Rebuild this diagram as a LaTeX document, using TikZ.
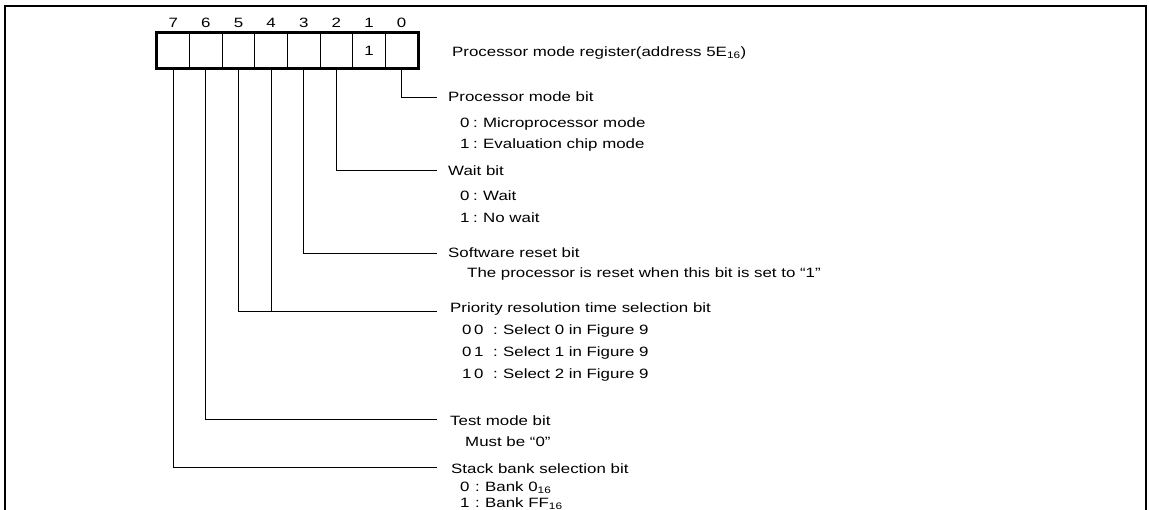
\documentclass[tikz,border=0pt]{standalone}
\usepackage{fontspec}
\usetikzlibrary{calc}
\newfontfamily\labfont[FakeStretch=1.25]{Liberation Sans}
\newcommand\codeA[1]{\makebox[13pt][l]{#1}\makebox[10pt][l]{:}}
\newcommand\codeB[2]{\makebox[12pt][l]{#1}\makebox[19pt][l]{#2}\makebox[10pt][l]{:}}
\newcommand\codeC[1]{\makebox[15pt][l]{#1}\makebox[10pt][l]{:}}
\begin{document}
\begin{tikzpicture}[x=1pt,y=-1pt,
  every node/.style={font=\labfont\fontsize{13.5}{16}\selectfont, inner sep=0pt},
  txt/.style={anchor=base west},
  cell/.style={draw, line width=0.9pt, minimum width=32.625pt, minimum height=35pt, anchor=center},
  lead/.style={line width=0.9pt},
  frame/.style={line width=2.2pt},
  regbox/.style={line width=2.6pt}]
\useasboundingbox (0,0) rectangle (1149,509);
\clip (0,0) rectangle (1149,509);
% outer frame
\draw[frame] (5,530) -- (5,6) -- (1146,6) -- (1146,530);
% register cells
\foreach \b in {7,...,0}{
  \node[cell] (b\b) at ({157+(7-\b+0.5)*32.625},50.5) {};
  \node[anchor=base] (n\b) at ({157+(7-\b+0.5)*32.625},27) {\b};
}
\draw[regbox] (b7.north west) rectangle (b0.south east);
\node[anchor=base] (v1) at ($(b1.center)+(0,5)$) {1};
\node[txt] (title) at (452,56) {Processor mode register(address 5E\textsubscript{16})};
% labels
\node[txt] (h0) at (448,101) {Processor mode bit};
\node[txt] (h0a) at (460,127) {\codeA{0}Microprocessor mode};
\node[txt] (h0b) at (460,148) {\codeA{1}Evaluation chip mode};
\node[txt] (h2) at (448,175) {Wait bit};
\node[txt] (h2a) at (460,200) {\codeA{0}Wait};
\node[txt] (h2b) at (460,222) {\codeA{1}No wait};
\node[txt] (h3) at (448,257) {Software reset bit};
\node[txt] (h3a) at (467,277) {The processor is reset when this bit is set to “1”};
\node[txt] (h45) at (450,312) {Priority resolution time selection bit};
\node[txt] (h45a) at (462,334) {\codeB{0}{0}Select 0 in Figure 9};
\node[txt] (h45b) at (462,356) {\codeB{0}{1}Select 1 in Figure 9};
\node[txt] (h45c) at (462,378) {\codeB{1}{0}Select 2 in Figure 9};
\node[txt] (h6) at (450,425) {Test mode bit};
\node[txt] (h6a) at (465,446) {Must be “0”};
\node[txt] (h7) at (451,473) {Stack bank selection bit};
\node[txt] (h7a) at (460,491) {\codeC{0}Bank 0\textsubscript{16}};
\node[txt] (h7b) at (460,507) {\codeC{1}Bank FF\textsubscript{16}};
% connector ends
\coordinate (e0) at (437,97);
\coordinate (e2) at (437,170);
\coordinate (e3) at (437,253);
\coordinate (e45) at (437,311);
\coordinate (e6) at (437,419);
\coordinate (e7) at (437,467);
\draw[lead] (b0.south) |- (e0);
\draw[lead] (b2.south) |- (e2);
\draw[lead] (b3.south) |- (e3);
\draw[lead] (b5.south) |- (e45);
\draw[lead] (b4.south) -- (b4.south |- e45);
\draw[lead] (b6.south) |- (e6);
\draw[lead] (b7.south) |- (e7);
\end{tikzpicture}
\end{document}
